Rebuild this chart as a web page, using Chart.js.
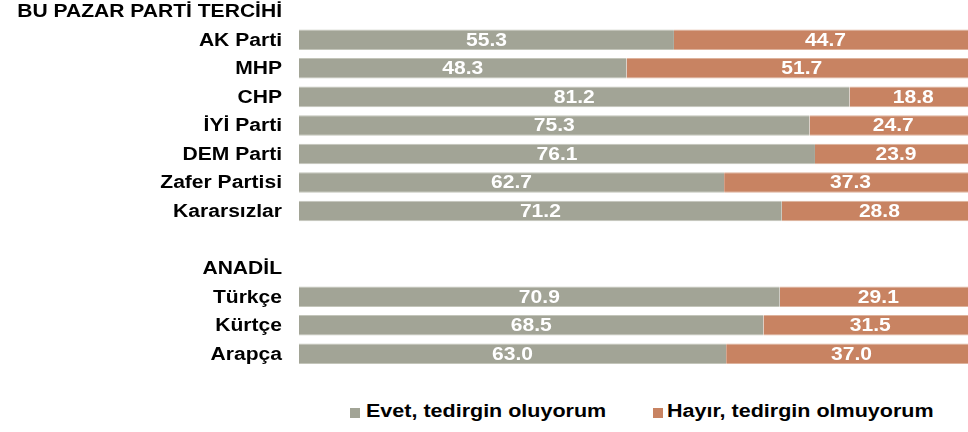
<!DOCTYPE html>
<html>
<head>
<meta charset="utf-8">
<script src="https://cdn.jsdelivr.net/npm/chart.js@4.4.1/dist/chart.umd.min.js"></script>
<style>
  body { margin: 0; background: #fff; width: 968px; height: 432px; overflow: hidden; position: relative; font-family: "Liberation Sans", Arial, sans-serif; }
  #wrap { position: absolute; left: 0; top: -3px; width: 968px; height: 371px; }
  .lg { position: absolute; top: 400px; font-size: 18px; font-weight: bold; line-height: 22px; color: #000; white-space: nowrap; transform: scaleX(1.195); transform-origin: 0 0; }
  .sw { position: absolute; top: 408px; width: 10px; height: 10px; }
</style>
</head>
<body>
<div id="wrap"><canvas id="chart"></canvas></div>
<div class="sw" id="sw1" style="left:350px;"></div>
<div class="lg" id="lg1" style="left:366px;"></div>
<div class="sw" id="sw2" style="left:653px;"></div>
<div class="lg" id="lg2" style="left:667px;"></div>
<script>
const categories = ["BU PAZAR PARTİ TERCİHİ", "AK Parti", "MHP", "CHP", "İYİ Parti", "DEM Parti", "Zafer Partisi", "Kararsızlar", "", "ANADİL", "Türkçe", "Kürtçe", "Arapça"];
const evetValues = [null, 55.3, 48.3, 81.2, 75.3, 76.1, 62.7, 71.2, null, null, 70.9, 68.5, 63.0];
const hayirValues = [null, 44.7, 51.7, 18.8, 24.7, 23.9, 37.3, 28.8, null, null, 29.1, 31.5, 37.0];
const seriesNames = ["Evet, tedirgin oluyorum", "Hayır, tedirgin olmuyorum"];
const colors = ["#a2a496", "#c88362"];

// legend (html, placed like the reference)
document.getElementById("sw1").style.background = colors[0];
document.getElementById("sw2").style.background = colors[1];
document.getElementById("lg1").textContent = seriesNames[0];
document.getElementById("lg2").textContent = seriesNames[1];

const FONT = '"Liberation Sans", Arial, sans-serif';
const STRETCH = 1.17; // the reference text is wider than plain Arial

const drawWide = (ctx, text, x, y, align) => {
  ctx.save();
  ctx.translate(x, y);
  ctx.scale(STRETCH, 1);
  ctx.textAlign = align;
  ctx.fillText(text, 0, 0);
  ctx.restore();
};

// category names on the left + white values inside the segments
const textLayer = {
  id: "textLayer",
  afterDatasetsDraw(chart) {
    const ctx = chart.ctx;
    ctx.save();
    ctx.font = "bold 18px " + FONT;
    ctx.textBaseline = "middle";

    const yScale = chart.scales.y;
    ctx.fillStyle = "#000";
    categories.forEach((name, i) => {
      if (name) drawWide(ctx, name, 282, yScale.getPixelForValue(i) + 1, "right");
    });

    ctx.fillStyle = "#fff";
    chart.data.datasets.forEach((ds, i) => {
      chart.getDatasetMeta(i).data.forEach((bar, j) => {
        const v = ds.data[j];
        if (v == null) return;
        const p = bar.getProps(["x", "y", "base"], true);
        drawWide(ctx, v.toFixed(1), (p.x + p.base) / 2, p.y + 1, "center");
      });
    });
    ctx.restore();
  },
};

new Chart(document.getElementById("chart"), {
  type: "bar",
  data: {
    labels: categories,
    datasets: [
      { label: seriesNames[0], data: evetValues, backgroundColor: colors[0], borderColor: "#c3c5ba", borderWidth: { top: 1, bottom: 1 }, borderSkipped: false },
      { label: seriesNames[1], data: hayirValues, backgroundColor: colors[1], borderColor: "#ddb29c", borderWidth: { top: 1, bottom: 1 }, borderSkipped: false },
    ],
  },
  options: {
    indexAxis: "y",
    responsive: true,
    maintainAspectRatio: false,
    animation: false,
    layout: { padding: 0 },
    datasets: { bar: { barPercentage: 0.72, categoryPercentage: 1 } },
    plugins: { legend: { display: false }, tooltip: { enabled: false } },
    scales: {
      // the reference is cut off on the right, so 100 falls just past the edge
      x: { stacked: true, min: 0, max: 98.67, display: false },
      y: {
        stacked: true,
        grid: { display: false, drawTicks: false },
        border: { display: false },
        ticks: { display: false, autoSkip: false },
        afterFit: (scale) => {
          scale.width = 299;
          scale.paddingTop = 0;
          scale.paddingBottom = 0;
        },
      },
    },
  },
  plugins: [textLayer],
});
</script>
</body>
</html>
